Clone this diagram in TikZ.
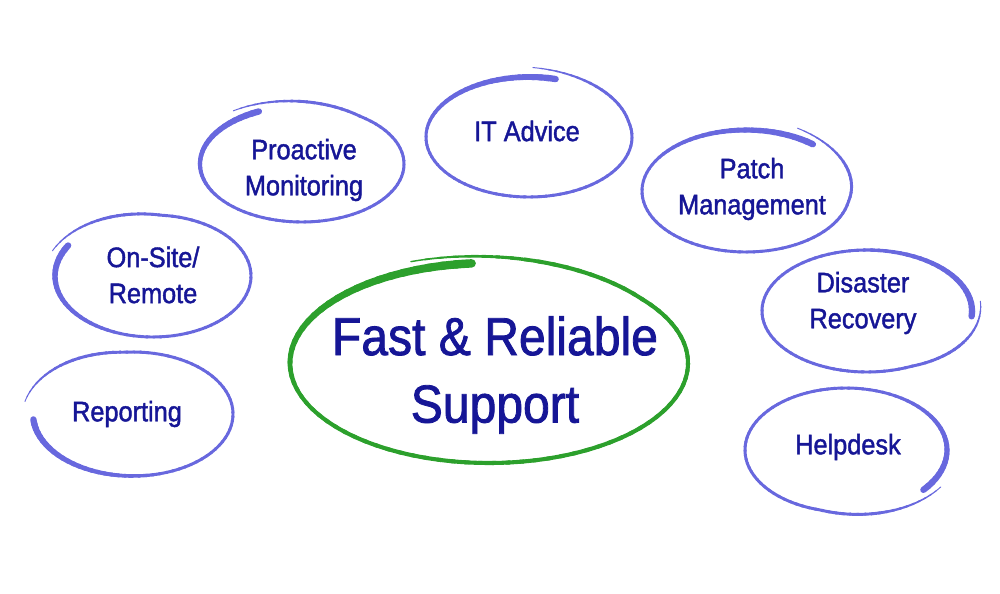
\documentclass[tikz,border=0pt]{standalone}
\usepackage{fontspec}
\setmainfont{Liberation Sans}
\newfontfamily\labelfont{Liberation Sans}[FakeStretch=0.9,FakeBold=1.5]
\definecolor{ringblue}{RGB}{104,104,222}
\definecolor{ringgreen}{RGB}{44,160,44}
\definecolor{labelblue}{RGB}{22,22,150}

% brush ring: cx, cy, rx, ry, start angle, sweep, colour, line width, start width
\newcommand{\brushring}[9]{%
  \foreach \t in {0,4,...,#6}{%
    \pgfmathsetmacro{\w}{#8+(#9-#8)*max(0,1-\t/100)-#8*0.7*max(0,\t-(#6-40))/40}%
    \draw[#7,line width=\w pt,line cap=round]
      plot[domain=#5+\t:#5+\t+5,samples=3]
      ({#1+(#3+0.13*max(0,\x-#5-#6+70))*cos(\x)},{#2+(#4+0.13*max(0,\x-#5-#6+70))*sin(\x)});
  }%
}

\begin{document}
\begin{tikzpicture}[x=0.025cm,y=0.025cm,
    lbl/.style={font=\labelfont\fontsize{20}{25.6}\selectfont,text=labelblue,align=center},
    biglbl/.style={font=\labelfont\fontsize{38}{48}\selectfont,text=labelblue,align=center}]
	\useasboundingbox (0,0) rectangle (1000,-593);
	% rings
	\brushring{133}{-414}{100}{62}{185}{340}{ringblue}{2.1}{4.5}
	\brushring{153}{-276}{98}{61}{150}{365}{ringblue}{2.1}{4.5}
	\brushring{302}{-164}{102}{58}{115}{370}{ringblue}{2.1}{4.5}
	\brushring{529}{-137}{103}{60}{75}{370}{ringblue}{2.1}{4.5}
	\brushring{746}{-191}{104}{61}{50}{370}{ringblue}{2.1}{4.5}
	\brushring{867}{-311}{105}{61}{-5}{370}{ringblue}{2.1}{4.5}
	\brushring{846}{-450}{101}{62}{-40}{365}{ringblue}{2.1}{4.5}
	\brushring{489}{-363}{199}{100}{95}{375}{ringgreen}{2.9}{6}
	% labels
	\node[lbl] (reporting) at (127,-414) {Reporting};
	\node[lbl] (onsite) at (153,-275) {On-Site/\\Remote};
	\node[lbl] (proactive) at (304,-170) {Proactive\\Monitoring};
	\node[lbl] (itadvice) at (527,-131) {IT Advice};
	\node[lbl] (patch) at (752,-189) {Patch\\Management};
	\node[lbl] (disaster) at (863,-303) {Disaster\\Recovery};
	\node[lbl] (helpdesk) at (848,-447) {Helpdesk};
	\node[biglbl] (support) at (495,-375) {Fast \& Reliable\\Support};
\end{tikzpicture}
\end{document}
